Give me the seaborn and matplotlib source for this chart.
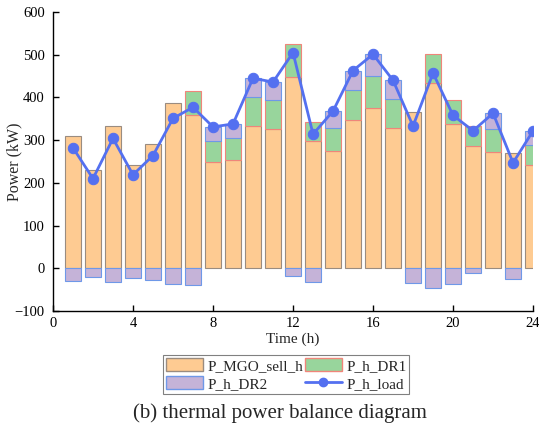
import numpy as np
import pandas as pd
import matplotlib
matplotlib.use("Agg")
import matplotlib.pyplot as plt
import seaborn as sns
from matplotlib.patches import Patch
from matplotlib.lines import Line2D

hours = list(range(1, 25))
mgo = [310, 231, 333, 241, 290, 386, 358, 248, 253, 333, 327, 447,
       297, 275, 347, 376, 329, 365, 433, 339, 286, 272, 271, 241]
dr1 = [0, 0, 0, 0, 0, 0, 57, 49, 51, 67, 66, 78,
       46, 54, 70, 75, 67, 0, 68, 54, 47, 55, 0, 47]
dr2 = [-29, -21, -31, -23, -27, -36, -39, 34, 34, 45, 43, -19,
       -32, 39, 46, 50, 44, -34, -46, -37, -12, 36, -24, 34]
load = [282, 210, 304, 219, 264, 351, 377, 331, 338, 445, 436, 505,
        314, 368, 463, 501, 440, 333, 457, 358, 322, 363, 247, 322]
labels = ["P_MGO_sell_h", "P_h_DR1", "P_h_DR2", "P_h_load"]

sns.set_theme(style="ticks")
plt.rcParams["font.family"] = ["Liberation Serif", "DejaVu Serif"]
plt.rcParams["xtick.direction"] = "in"
plt.rcParams["ytick.direction"] = "in"

c_mgo, e_mgo = "#FECB92", "#9A8C80"
c_dr1, e_dr1 = "#98D59C", "#F0857A"
c_dr2, e_dr2 = "#C5B3D8", "#6E98E8"
c_load = "#5470F0"

df = pd.DataFrame({"hour": hours, "mgo": mgo, "dr1": dr1, "dr2": dr2, "load": load})
df["b_dr1"] = df["mgo"]
df["b_dr2"] = np.where(df["dr2"] > 0, df["mgo"] + df["dr1"], 0)

fig = plt.figure(figsize=(5.39, 4.29), dpi=100)
ax = fig.add_axes([0.0983, 0.275, 0.8907, 0.697])

bw = 0.8
ax.bar(df["hour"], df["mgo"], width=bw, color=c_mgo, edgecolor=e_mgo, linewidth=0.8, zorder=2)
d1 = df[df["dr1"] != 0]
ax.bar(d1["hour"], d1["dr1"], width=bw, bottom=d1["b_dr1"], color=c_dr1, edgecolor=e_dr1, linewidth=0.8, zorder=2)
d2 = df[df["dr2"] != 0]
ax.bar(d2["hour"], d2["dr2"], width=bw, bottom=d2["b_dr2"], color=c_dr2, edgecolor=e_dr2, linewidth=0.8, zorder=2)

sns.lineplot(data=df, x="hour", y="load", ax=ax, color=c_load, linewidth=2,
             marker="o", markersize=7.5, markeredgecolor=c_load, zorder=3, legend=False)

ax.set_xlim(0, 24)
ax.set_ylim(-100, 600)
ax.set_xticks(range(0, 25, 4))
ax.set_yticks(range(-100, 601, 100))
ax.tick_params(axis="both", labelsize=10.5, length=4, width=1, colors="black")
ax.tick_params(axis="y", pad=6)
ax.tick_params(axis="x", pad=4)
for s in ["top", "right"]:
    ax.spines[s].set_visible(False)
for s in ["left", "bottom"]:
    ax.spines[s].set_color("black")
    ax.spines[s].set_linewidth(1)
ax.set_xlabel("Time (h)", fontsize=11, labelpad=2)
ax.set_ylabel("Power (kW)", fontsize=11.5)
ax.yaxis.label.set_va("center")
ax.yaxis.set_label_coords(-0.080, 0.5)

h_mgo = Patch(facecolor=c_mgo, edgecolor=e_mgo, label=labels[0])
h_dr1 = Patch(facecolor=c_dr1, edgecolor=e_dr1, label=labels[1])
h_dr2 = Patch(facecolor=c_dr2, edgecolor=e_dr2, label=labels[2])
h_load = Line2D([], [], color=c_load, linewidth=2, marker="o", markersize=6, label=labels[3])
leg = fig.legend(handles=[h_mgo, h_dr2, h_dr1, h_load], ncol=2, loc="upper left",
                 bbox_to_anchor=(0.303, 0.172),
                 fontsize=11, frameon=True, fancybox=False, edgecolor="#606060",
                 handlelength=2.4, handleheight=0.95, handletextpad=0.3,
                 columnspacing=0.1, borderpad=0.2, labelspacing=0.2, borderaxespad=0)
leg.get_frame().set_linewidth(0.8)

fig.text(0.519, 0.037, "(b) thermal power balance diagram", ha="center", va="center", fontsize=15)

fig.savefig("out.png", dpi=100)
